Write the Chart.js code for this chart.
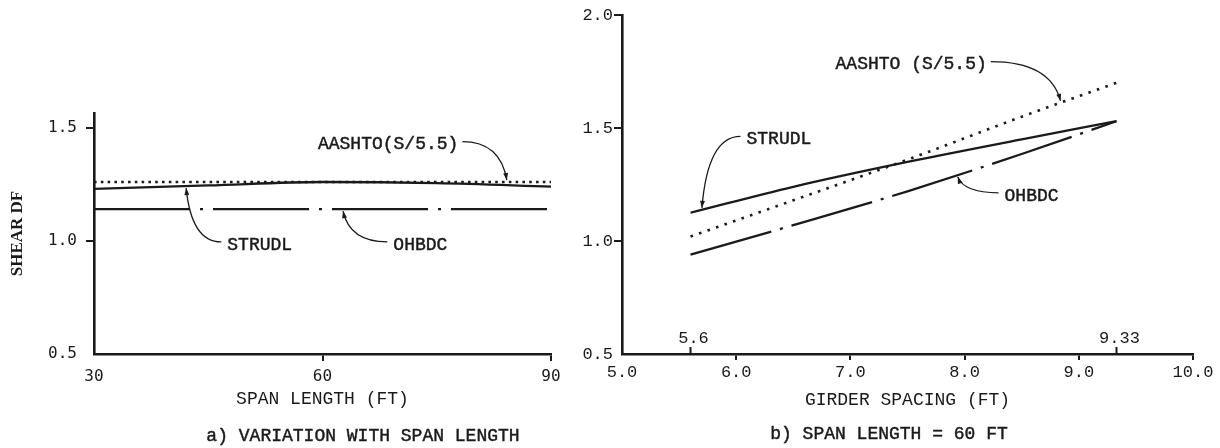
<!DOCTYPE html>
<html>
<head>
<meta charset="utf-8">
<script src="https://cdn.jsdelivr.net/npm/chart.js@4.4.1/dist/chart.umd.min.js"></script>
<style>
  html, body { margin: 0; padding: 0; background: #fff; }
  #wrap { position: relative; width: 1220px; height: 448px; overflow: hidden; }
  canvas { position: absolute; top: 0; }
  #spanChart { left: 0; }
  #spacingChart { left: 560px; }
</style>
</head>
<body>
<div id="wrap">
  <canvas id="spanChart" width="600" height="448"></canvas>
  <canvas id="spacingChart" width="660" height="448"></canvas>
</div>
<script>
// a) shear DF against span length
const spanLengths = [30, 45, 60, 75, 90];
const spanStrudl = [1.23, 1.245, 1.26, 1.255, 1.24];
const spanAashto = [1.26, 1.26, 1.26, 1.26, 1.26];
const spanOhbdc = [1.14, 1.14, 1.14, 1.14, 1.14];
const spanTicks = [30, 60, 90];
const spanDfTicks = [0.5, 1.0, 1.5];

// b) shear DF against girder spacing (span 60 ft)
const spacings = [5.6, 6.5, 7.5, 8.5, 9.33];
const spacingStrudl = [1.125, 1.24, 1.35, 1.45, 1.53];
const spacingAashto = [1.02, 1.18, 1.36, 1.55, 1.70];
const spacingOhbdc = [0.94, 1.07, 1.22, 1.385, 1.53];
const spacingTicks = [5.0, 6.0, 7.0, 8.0, 9.0, 10.0];
const spacingDfTicks = [0.5, 1.0, 1.5, 2.0];
const spacingMarks = [5.6, 9.33];

const INK = '#1a1a1a';
const MONO = '"Liberation Mono", "Courier New", monospace';
const SANS_MONO = '"DejaVu Sans Mono", monospace';

const pts = (xs, ys) => xs.map((x, i) => ({ x: x, y: ys[i] }));

// y of a series at x, used to land the leader arrows on the curves
function valueAt(xs, ys, x) {
    for (let i = 1; i < xs.length; i++) {
        if (x <= xs[i]) {
            const t = (x - xs[i - 1]) / (xs[i] - xs[i - 1]);
            return ys[i - 1] + t * (ys[i] - ys[i - 1]);
        }
    }
    return ys[ys.length - 1];
}

// typewriter text: a thin stroke over the fill makes it a little heavier
function inkText(ctx, text, x, y) {
    ctx.fillText(text, x, y);
    ctx.lineWidth = 0.45;
    ctx.strokeText(text, x, y);
}

// curve labels with curved leader lines and small arrowheads
function calloutPlugin(items) {
    return {
        id: 'callouts',
        afterDatasetsDraw(chart) {
            const { ctx, scales } = chart;
            ctx.save();
            ctx.font = '18px ' + MONO;
            ctx.fillStyle = INK;
            ctx.strokeStyle = INK;
            ctx.textBaseline = 'middle';
            items.forEach(c => {
                const tx = scales.x.getPixelForValue(c.textX);
                const ty = scales.y.getPixelForValue(c.textY);
                const w = ctx.measureText(c.text).width;
                inkText(ctx, c.text, tx, ty);

                const px = scales.x.getPixelForValue(c.tipX);
                const lineY = scales.y.getPixelForValue(valueAt(c.xs, c.ys, c.tipX));
                const py = lineY + (ty < lineY ? -2 : 2);
                const sx = px < tx ? tx - 6 : tx + w + 4;
                const sy = ty - 3;
                const cx = px + (sx - px) * 0.15;
                const cy = sy;
                ctx.lineWidth = 1.3;
                ctx.beginPath();
                ctx.moveTo(sx, sy);
                ctx.quadraticCurveTo(cx, cy, px, py);
                ctx.stroke();

                const a = Math.atan2(py - cy, px - cx);
                const len = 7, half = 2.5;
                ctx.beginPath();
                ctx.moveTo(px, py);
                ctx.lineTo(px - len * Math.cos(a) + half * Math.sin(a), py - len * Math.sin(a) - half * Math.cos(a));
                ctx.lineTo(px - len * Math.cos(a) - half * Math.sin(a), py - len * Math.sin(a) + half * Math.cos(a));
                ctx.closePath();
                ctx.fill();
            });
            ctx.restore();
        }
    };
}

function captionPlugin(text, x, y) {
    return {
        id: 'caption',
        afterDraw(chart) {
            const ctx = chart.ctx;
            ctx.save();
            ctx.font = '18px ' + MONO;
            ctx.fillStyle = INK;
            ctx.strokeStyle = INK;
            ctx.textAlign = 'center';
            ctx.textBaseline = 'middle';
            inkText(ctx, text, x, y);
            ctx.restore();
        }
    };
}

// upward ticks with values at the ends of the spacing range
const spacingMarksPlugin = {
    id: 'spacingMarks',
    afterDraw(chart) {
        const { ctx, scales: { x }, chartArea } = chart;
        ctx.save();
        ctx.strokeStyle = INK;
        ctx.fillStyle = INK;
        ctx.lineWidth = 2;
        ctx.font = '17px ' + MONO;
        ctx.textAlign = 'center';
        ctx.textBaseline = 'middle';
        spacingMarks.forEach(v => {
            const px = x.getPixelForValue(v);
            ctx.beginPath();
            ctx.moveTo(px, chartArea.bottom);
            ctx.lineTo(px, chartArea.bottom - 7);
            ctx.stroke();
            ctx.fillText(String(v), px + 3, chartArea.bottom - 16);
        });
        ctx.restore();
    }
};

function axisStyle(tickLength) {
    return {
        grid: {
            drawOnChartArea: false,
            drawTicks: true,
            tickLength: tickLength,
            lineWidth: 2,
            color: c => (c.index === 0 ? 'rgba(0,0,0,0)' : INK)
        },
        border: { display: true, color: INK, width: 2.6 }
    };
}

function series(xs, ys, kind, dash) {
    const ds = {
        data: pts(xs, ys),
        borderColor: INK,
        borderWidth: 2.3,
        pointRadius: 0,
        cubicInterpolationMode: 'monotone',
        fill: false
    };
    if (kind === 'dot') {
        ds.borderWidth = 2.6;
        ds.borderDash = dash;
    } else if (kind === 'dashdot') {
        ds.borderDash = dash;
    }
    return ds;
}

// a) variation with span length
new Chart(document.getElementById('spanChart'), {
    type: 'line',
    data: {
        datasets: [
            series(spanLengths, spanAashto, 'dot', [2.6, 4.2]),
            series(spanLengths, spanStrudl, 'solid'),
            series(spanLengths, spanOhbdc, 'dashdot', [96, 10, 3, 10])
        ]
    },
    options: {
        responsive: false,
        animation: false,
        devicePixelRatio: 1,
        layout: { padding: { left: 0, top: 113, right: 49, bottom: 0 } },
        plugins: { legend: { display: false }, tooltip: { enabled: false } },
        scales: {
            x: Object.assign({
                type: 'linear',
                min: 30,
                max: 90,
                afterBuildTicks: s => { s.ticks = spanTicks.map(v => ({ value: v })); },
                afterFit: s => { s.height = 94; },
                ticks: {
                    color: INK,
                    padding: 6,
                    maxRotation: 0,
                    font: { family: SANS_MONO, size: 16 },
                    callback: v => String(v)
                },
                title: {
                    display: true,
                    text: 'SPAN LENGTH (FT)',
                    color: INK,
                    font: { family: MONO, size: 18 },
                    padding: { top: 0, bottom: 38 }
                }
            }, axisStyle(7)),
            y: Object.assign({
                type: 'linear',
                min: 0.5,
                max: 1.565,
                afterBuildTicks: s => { s.ticks = spanDfTicks.map(v => ({ value: v })); },
                afterFit: s => { s.width = 94; },
                ticks: {
                    color: INK,
                    padding: 9,
                    font: { family: SANS_MONO, size: 16 },
                    callback: v => v.toFixed(1)
                },
                title: {
                    display: true,
                    text: 'SHEAR DF',
                    color: INK,
                    font: { family: '"Liberation Serif", serif', size: 17, weight: 'bold' },
                    padding: { top: 7, bottom: 0 }
                }
            }, axisStyle(8))
        }
    },
    plugins: [
        calloutPlugin([
            { text: 'AASHTO(S/5.5)', textX: 59.4, textY: 1.425, tipX: 84.2, xs: spanLengths, ys: spanAashto },
            { text: 'STRUDL', textX: 47.5, textY: 0.982, tipX: 42.1, xs: spanLengths, ys: spanStrudl },
            { text: 'OHBDC', textX: 69.3, textY: 0.982, tipX: 62.7, xs: spanLengths, ys: spanOhbdc }
        ]),
        captionPlugin('a) VARIATION WITH SPAN LENGTH', 363, 436)
    ]
});

// b) span length = 60 ft
new Chart(document.getElementById('spacingChart'), {
    type: 'line',
    data: {
        datasets: [
            series(spacings, spacingAashto, 'dot', [2.6, 6.4]),
            series(spacings, spacingStrudl, 'solid'),
            series(spacings, spacingOhbdc, 'dashdot', [84, 9, 3, 9])
        ]
    },
    options: {
        responsive: false,
        animation: false,
        devicePixelRatio: 1,
        layout: { padding: { left: 0, top: 15, right: 27, bottom: 0 } },
        plugins: { legend: { display: false }, tooltip: { enabled: false } },
        scales: {
            x: Object.assign({
                type: 'linear',
                min: 5,
                max: 10,
                afterBuildTicks: s => { s.ticks = spacingTicks.map(v => ({ value: v })); },
                afterFit: s => { s.height = 94; },
                ticks: {
                    color: INK,
                    padding: 2,
                    maxRotation: 0,
                    font: { family: MONO, size: 17 },
                    callback: v => v.toFixed(1)
                },
                title: {
                    display: true,
                    text: 'GIRDER SPACING (FT)',
                    color: INK,
                    font: { family: MONO, size: 18 },
                    padding: { top: 0, bottom: 37 }
                }
            }, axisStyle(6)),
            y: Object.assign({
                type: 'linear',
                min: 0.5,
                max: 2.0,
                afterBuildTicks: s => { s.ticks = spacingDfTicks.map(v => ({ value: v })); },
                afterFit: s => { s.width = 62; },
                ticks: {
                    color: INK,
                    padding: 1,
                    font: { family: MONO, size: 17 },
                    callback: v => v.toFixed(1)
                }
            }, axisStyle(8))
        }
    },
    plugins: [
        calloutPlugin([
            { text: 'AASHTO (S/5.5)', textX: 6.87, textY: 1.78, tipX: 8.84, xs: spacings, ys: spacingAashto },
            { text: 'STRUDL', textX: 6.09, textY: 1.45, tipX: 5.70, xs: spacings, ys: spacingStrudl },
            { text: 'OHBDC', textX: 8.35, textY: 1.20, tipX: 7.94, xs: spacings, ys: spacingOhbdc }
        ]),
        spacingMarksPlugin,
        captionPlugin('b) SPAN LENGTH = 60 FT', 329, 434)
    ]
});
</script>
</body>
</html>
